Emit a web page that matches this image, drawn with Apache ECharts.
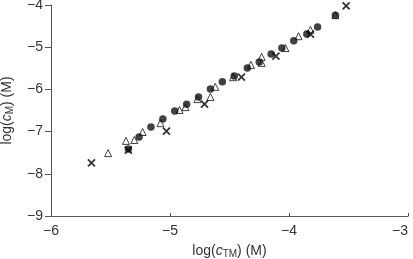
<!DOCTYPE html>
<html>
<head>
<meta charset="utf-8">
<script src="https://cdn.jsdelivr.net/npm/echarts@6/dist/echarts.min.js"></script>
<style>
  html, body { margin: 0; padding: 0; background: #fff; }
  #chart { width: 413px; height: 259px; }
</style>
</head>
<body>
<div id="chart"></div>
<script>
// data: [log(cTM), log(cM)]
var circles = [
  [-5.35, -7.41], [-5.26, -7.13], [-5.16, -6.89], [-5.06, -6.70], [-4.96, -6.51],
  [-4.86, -6.35], [-4.76, -6.18], [-4.66, -5.99], [-4.56, -5.82], [-4.46, -5.68],
  [-4.35, -5.49], [-4.25, -5.35], [-4.15, -5.16], [-4.06, -5.02], [-3.96, -4.85],
  [-3.85, -4.69], [-3.76, -4.52], [-3.61, -4.24]
]
var triangles = [
  [-5.52, -7.51], [-5.37, -7.22], [-5.30, -7.20], [-5.23, -7.01], [-5.08, -6.80],
  [-4.92, -6.49], [-4.87, -6.42], [-4.77, -6.23], [-4.66, -6.18], [-4.62, -5.94],
  [-4.47, -5.71], [-4.32, -5.42], [-4.23, -5.23], [-4.23, -5.37], [-4.03, -5.02],
  [-3.92, -4.74], [-3.82, -4.59], [-3.61, -4.24]
]
var crosses = [
  [-5.66, -7.74], [-5.35, -7.44], [-5.03, -6.99], [-4.71, -6.35],
  [-4.40, -5.71], [-4.11, -5.21], [-3.82, -4.69], [-3.52, -4.02]
]
var xTicks = [-6, -5, -4, -3]
var yTicks = [-9, -8, -7, -6, -5, -4]

var font = 'Liberation Sans, Arial, sans-serif'
function minus(v) {
  return v < 0 ? '\u2212' + Math.abs(v) : String(v)
}

var nameStyle = {
  color: '#333', fontSize: 14, fontFamily: font,
  rich: {
    i: { fontStyle: 'italic', fontSize: 14, fontFamily: font, color: '#333' },
    sub: { fontSize: 10, fontFamily: font, color: '#333', verticalAlign: 'bottom', padding: [6, 0, 0, 0] }
  }
}

var myChart = echarts.init(document.getElementById('chart'))
var option = {
  animation: false,
  grid: {
    left: 51,
    right: 5,
    top: 5,
    bottom: 43,
    containLabel: false,
    outerBoundsMode: 'none'
  },
  xAxis: {
    type: 'value',
    min: xTicks[0],
    max: xTicks[xTicks.length - 1],
    interval: 1,
    splitLine: { show: false },
    axisLine: { lineStyle: { color: '#555', width: 1 } },
    axisTick: { inside: true, length: 3, lineStyle: { color: '#555' } },
    axisLabel: {
      color: '#333', fontSize: 14, fontFamily: font, margin: 8, formatter: minus,
      alignMaxLabel: 'right'
    },
    name: 'log({i|c}{sub|TM}) (M)',
    nameLocation: 'middle',
    nameGap: 27,
    nameTextStyle: nameStyle
  },
  yAxis: {
    type: 'value',
    min: yTicks[0],
    max: yTicks[yTicks.length - 1],
    interval: 1,
    splitLine: { show: false },
    axisLine: { lineStyle: { color: '#555', width: 1 } },
    axisTick: { length: 6, lineStyle: { color: '#555' } },
    axisLabel: { color: '#333', fontSize: 14, fontFamily: font, margin: 8, formatter: minus },
    name: 'log({i|c}{sub|M}) (M)',
    nameLocation: 'middle',
    nameGap: 36,
    nameTextStyle: nameStyle
  },
  series: [
    {
      name: 'triangles',
      type: 'scatter',
      data: triangles,
      symbol: 'triangle',
      symbolSize: 7,
      itemStyle: { color: '#fff', borderColor: '#111', borderWidth: 1 }
    },
    {
      name: 'circles',
      type: 'scatter',
      data: circles,
      symbol: 'circle',
      symbolSize: 7.5,
      itemStyle: { color: '#111' }
    },
    {
      name: 'crosses',
      type: 'scatter',
      data: crosses,
      symbol: 'path://M0,0L10,10M10,0L0,10',
      symbolSize: 7,
      itemStyle: { color: 'none', borderColor: '#000', borderWidth: 1.8 }
    }
  ]
}
myChart.setOption(option)
</script>
</body>
</html>
